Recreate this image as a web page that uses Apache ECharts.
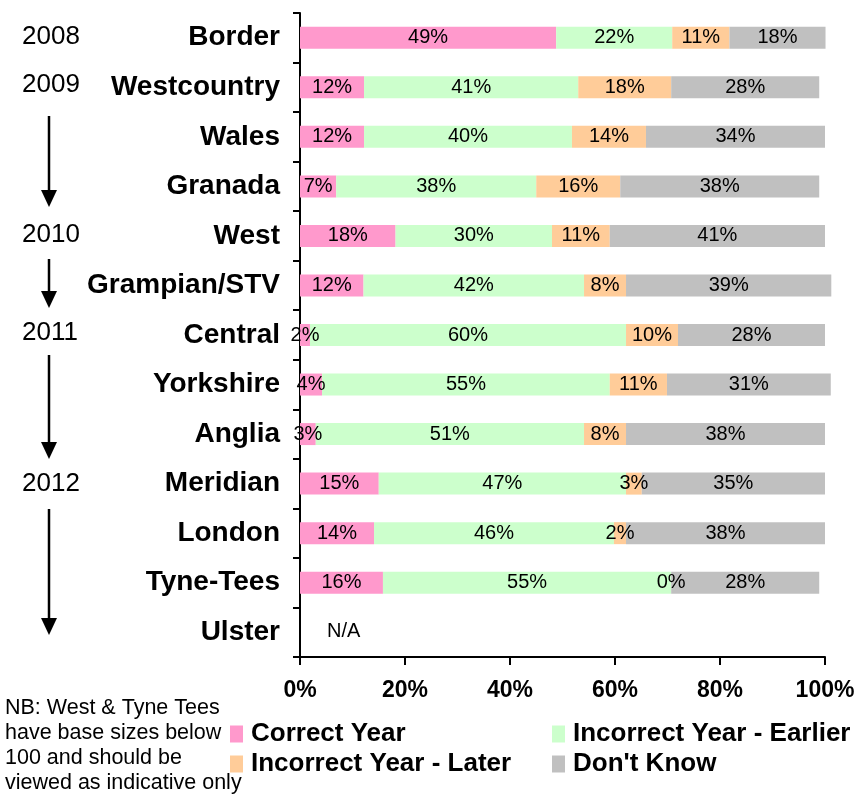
<!DOCTYPE html>
<html lang="en">
<head>
    <meta charset="UTF-8">
    <title>Year recall by region</title>
    <script src="https://cdn.jsdelivr.net/npm/echarts@6/dist/echarts.min.js"></script>
    <style>
        html, body {margin: 0; padding: 0; background: #fff;}
        #main {width: 861px; height: 796px;}
    </style>
</head>
<body>
<div id="main"></div>
<script type="text/javascript">
    var categories = ['Border', 'Westcountry', 'Wales', 'Granada', 'West', 'Grampian/STV', 'Central',
        'Yorkshire', 'Anglia', 'Meridian', 'London', 'Tyne-Tees', 'Ulster'];
    // percentages ('-' = no data for Ulster)
    var correctYear = [48.8, 12.2, 12.2, 6.9, 18.2, 12.1, 1.9, 4.2, 3.0, 15.0, 14.1, 15.8, '-'];
    var earlierYear = [22.1, 40.8, 39.6, 38.1, 29.8, 42.0, 60.2, 54.8, 51.1, 47.1, 45.7, 54.9, '-'];
    var laterYear = [10.9, 17.7, 14.1, 16.0, 11.0, 8.0, 9.9, 10.9, 8.0, 3.0, 2.3, 0, '-'];
    var dontKnow = [18.3, 28.2, 34.1, 37.9, 41.0, 39.1, 28.0, 31.2, 37.9, 34.9, 37.9, 28.2, '-'];
    var xTicks = [0, 20, 40, 60, 80, 100];
    var years = [
        {text: '2008', y: 38},
        {text: '2009', y: 86},
        {text: '2010', y: 236},
        {text: '2011', y: 334},
        {text: '2012', y: 485}
    ];
    // arrows: [start y, tip y]
    var arrows = [[116, 207], [259, 308], [355, 459], [509, 635]];
    var noteLines = ['NB: West & Tyne Tees', 'have base sizes below', '100 and should be', 'viewed as indicative only'];

    var colorArr = ['#FF99CC', '#CCFFCC', '#FFCC99', '#C0C0C0'];
    var seriesNames = ['Correct Year', 'Incorrect Year - Earlier', 'Incorrect Year - Later', "Don't Know"];
    var seriesData = [correctYear, earlierYear, laterYear, dontKnow];
    var arial = '"Liberation Sans", Arial, sans-serif';

    var myChart = echarts.init(document.getElementById('main'));

    var series = [];
    for (var i = 0; i < seriesData.length; i++) {
        series.push({
            name: seriesNames[i],
            type: 'bar',
            stack: 'total',
            barWidth: 22,
            clip: false,
            data: seriesData[i],
            itemStyle: {color: colorArr[i]},
            label: {
                show: true,
                position: 'inside',
                color: '#000',
                fontFamily: arial,
                fontSize: 20,
                formatter: function (p) {
                    return Math.round(p.value) + '%';
                }
            },
            labelLayout: {hideOverlap: false}
        });
    }

    var legendPos = [[230, 721], [552, 721], [230, 751], [552, 751]];
    var legends = [];
    for (var k = 0; k < seriesNames.length; k++) {
        legends.push({
            data: [seriesNames[k]],
            left: legendPos[k][0],
            top: legendPos[k][1],
            padding: 0,
            icon: 'rect',
            itemWidth: 13,
            itemHeight: 17,
            itemGap: 0,
            selectedMode: false,
            textStyle: {fontFamily: arial, fontWeight: 'bold', fontSize: 26, color: '#000', padding: [0, 0, 0, 3]}
        });
    }

    var graphics = [];
    years.forEach(function (yr) {
        graphics.push({
            type: 'text', left: 22, top: yr.y - 14,
            style: {text: yr.text, font: '26px ' + arial, fill: '#000'}
        });
    });
    arrows.forEach(function (a) {
        graphics.push({
            type: 'line',
            shape: {x1: 49, y1: a[0], x2: 49, y2: a[1] - 15},
            style: {stroke: '#000', lineWidth: 2.5}
        });
        graphics.push({
            type: 'polygon',
            shape: {points: [[41, a[1] - 17], [57, a[1] - 17], [49, a[1]]]},
            style: {fill: '#000'}
        });
    });
    noteLines.forEach(function (t, n) {
        graphics.push({
            type: 'text', left: 5, top: 697 + n * 25,
            style: {text: t, font: '21.5px ' + arial, fill: '#000'}
        });
    });
    graphics.push({
        type: 'text', left: 327, top: 621,
        style: {text: 'N/A', font: '20px ' + arial, fill: '#000'}
    });

    var option = {
        animation: false,
        grid: {left: 300, right: 36, top: 13, bottom: 139, containLabel: false},
        legend: legends,
        xAxis: {
            type: 'value',
            min: xTicks[0],
            max: xTicks[xTicks.length - 1],
            interval: xTicks[1] - xTicks[0],
            splitLine: {show: false},
            axisLine: {show: true, lineStyle: {color: '#000', width: 2}},
            axisTick: {show: true, length: 8, lineStyle: {color: '#000', width: 2}},
            axisLabel: {
                margin: 22,
                color: '#000',
                fontFamily: arial,
                fontWeight: 'bold',
                fontSize: 23,
                formatter: '{value}%'
            }
        },
        yAxis: {
            type: 'category',
            inverse: true,
            data: categories,
            axisLine: {show: true, lineStyle: {color: '#000', width: 2}},
            axisTick: {show: true, length: 7, lineStyle: {color: '#000', width: 2}},
            axisLabel: {
                margin: 20,
                color: '#000',
                fontFamily: arial,
                fontWeight: 'bold',
                fontSize: 28
            }
        },
        graphic: graphics,
        series: series
    };

    myChart.setOption(option);
</script>
</body>
</html>
